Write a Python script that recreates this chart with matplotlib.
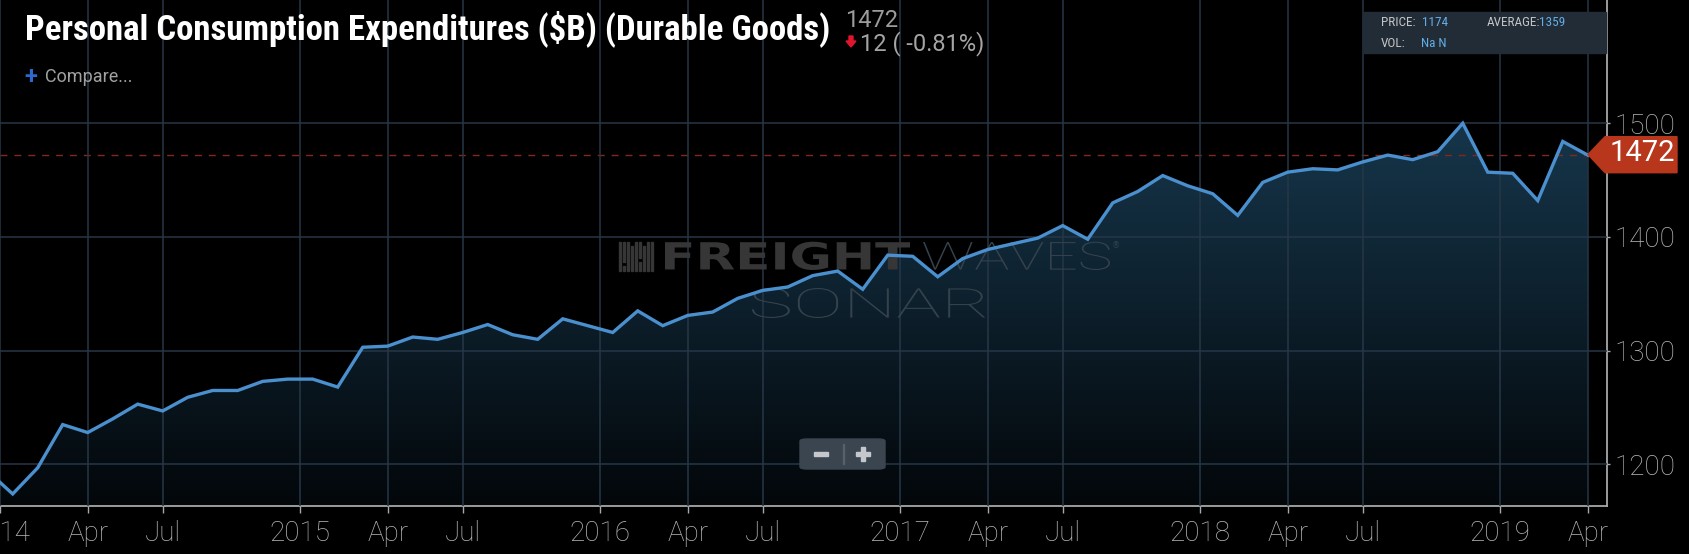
import numpy as np
import matplotlib
matplotlib.use("Agg")
import matplotlib.pyplot as plt
from matplotlib.patches import Polygon, Rectangle, FancyBboxPatch, PathPatch
from matplotlib.textpath import TextPath
from matplotlib.font_manager import FontProperties
from matplotlib.transforms import Affine2D

# === Data (monthly, Dec 2013 .. Apr 2019) ===
month_names = ["Jan", "Feb", "Mar", "Apr", "May", "Jun",
               "Jul", "Aug", "Sep", "Oct", "Nov", "Dec"]
months = ["Dec 2013"] + [f"{m} {y}" for y in range(2014, 2020) for m in month_names][:64]

values = [1194,
          1174, 1197, 1235, 1228, 1240, 1253, 1247, 1259, 1265, 1265, 1273, 1275,
          1275, 1268, 1303, 1304, 1312, 1310, 1316, 1323, 1314, 1310, 1328, 1322,
          1316, 1335, 1322, 1331, 1334, 1346, 1353, 1356, 1366, 1370, 1354, 1384,
          1383, 1365, 1381, 1389, 1394, 1399, 1410, 1398, 1430, 1440, 1454, 1445,
          1438, 1419, 1448, 1457, 1460, 1459, 1466, 1472, 1468, 1475, 1500, 1457,
          1456, 1432, 1484, 1472]

last_value = 1472
change = "12 ( -0.81%)"
price, average, vol = "1174", "1359", "Na N"
y_ticks = [1200, 1300, 1400, 1500]

# === Figure geometry (pixels) ===
W, H = 1689, 554
BG = "#000000"
LINE = "#4a90cf"
GRID = "#263747"
AXC = "#a8a8a8"
TXT = "#b8b8b8"
plain = ["Roboto", "DejaVu Sans"]
narrow = ["Roboto Condensed", "Liberation Sans Narrow", "DejaVu Sans"]


def fx(x):
    return x / W


def fy(y):
    return 1 - y / H


fig = plt.figure(figsize=(W / 100, H / 100), dpi=100, facecolor=BG)
ax = fig.add_axes([0, fy(506), fx(1607), 1 - fy(506)])
ax.set_facecolor(BG)

x = np.arange(len(values)) - 1       # Jan 2014 -> 0
y = np.array(values, dtype=float)

ax.set_xlim(-0.508, 63.77)
ax.set_ylim(1163.4, 1608.4)

# --- ticks: Apr / Jul at the month, years half a month before January ---
tick_pos, tick_lab = [], []
for i, m in zip(x, months):
    name, yr = m.split()
    if name in ("Apr", "Jul"):
        tick_pos.append(i)
        tick_lab.append(name)
    elif name == "Jan":
        tick_pos.append(i - 0.5)
        tick_lab.append(yr)
ax.set_xticks(tick_pos)
ax.set_xticklabels(tick_lab)
ax.set_yticks(y_ticks)
ax.yaxis.tick_right()

for lab in ax.get_xticklabels() + ax.get_yticklabels():
    lab.set_family(plain)
    lab.set_fontweight("light")
    lab.set_color(TXT)
    lab.set_fontsize(20)
ax.tick_params(axis="x", length=5, width=1, color=AXC, pad=5)
ax.tick_params(axis="y", length=2.5, width=1, color=AXC, pad=3)

for s in ("top", "left"):
    ax.spines[s].set_visible(False)
for s in ("bottom", "right"):
    ax.spines[s].set_color(AXC)
    ax.spines[s].set_linewidth(1.3)

ax.set_axisbelow(False)
ax.grid(True, color=GRID, linewidth=1.1)

# --- gradient area under the line ---
grad = np.linspace(1, 0, 256).reshape(-1, 1)
top_c = np.array([28, 69, 96]) / 255
bot_c = np.array([3, 7, 10]) / 255
img = grad[..., None] * top_c + (1 - grad[..., None]) * bot_c
im = ax.imshow(img, extent=[-0.508, 63.77, 1163.4, 1608.4], aspect="auto",
               origin="upper", zorder=1)
poly = Polygon(np.column_stack([np.r_[x, x[-1], x[0]],
                                np.r_[y, 1100, 1100]]),
               closed=True, facecolor="none", edgecolor="none",
               transform=ax.transData)
ax.add_patch(poly)
im.set_clip_path(poly)

# dashed last-value line
ax.plot([-0.508, x[-1]], [last_value, last_value], color="#82291a",
        linewidth=1, dashes=(5, 5), zorder=1.5)

ax.plot(x, y, color=LINE, linewidth=2.4, zorder=4, solid_joinstyle="miter")


# --- watermark ---
def text_patch(s, fp, x0, x1, ytop, ybot, color):
    tp = TextPath((0, 0), s, prop=fp, size=100)
    bb = tp.get_extents()
    tr = (Affine2D().translate(-bb.x0, -bb.y0)
          .scale((x1 - x0) / bb.width, (ybot - ytop) / bb.height)
          .translate(x0, H - ybot).scale(1 / W, 1 / H))
    p = PathPatch(tr.transform_path(tp), facecolor=color, edgecolor="none",
                  transform=fig.transFigure, zorder=3)
    ax.add_patch(p)


text_patch("FREIGHT", FontProperties(family="DejaVu Sans", weight="bold"),
           665, 910, 241.7, 270, "#363636")
text_patch("WAVES", FontProperties(family="Roboto", weight="light"),
           923, 1110, 241.7, 270, "#36434d")
text_patch("SONAR", FontProperties(family="Roboto", weight="light"),
           752, 985, 288, 318, "#34424c")
ax.text(fx(1116), fy(246), "®", transform=fig.transFigure, fontsize=6,
        color="#36434d", ha="center", va="center", zorder=3)
bars = [(619, 241.7, 270.7), (623, 241.7, 262), (623, 266, 270.7),
        (627, 241.7, 270.7), (631, 246, 270.7), (635, 241.7, 270.7),
        (639, 241.7, 258), (639, 262, 270.7), (643, 246, 270.7),
        (647, 241.7, 270.7), (651, 241.7, 270.7)]
for bx, t, b in bars:
    ax.add_patch(Rectangle((fx(bx), fy(b)), fx(2), (b - t) / H,
                           transform=fig.transFigure, color="#363636", zorder=3))

# --- header ---
fig.text(fx(25), fy(39.5), "Personal Consumption Expenditures ($B) (Durable Goods)",
         family=narrow, fontweight="bold", fontsize=25, color="white",
         ha="left", va="baseline")
fig.text(fx(845), fy(27.3), f"{last_value}", family=plain, fontsize=17,
         color="#9c9c9c", ha="left", va="baseline")
fig.text(fx(860), fy(50), change, family=plain, fontsize=17,
         color="#a4a4a4", ha="left", va="baseline")
fig.add_artist(Polygon([(fx(846), fy(41)), (fx(849), fy(41)), (fx(849), fy(36)),
                        (fx(853), fy(36)), (fx(853), fy(41)), (fx(856), fy(41)),
                        (fx(851), fy(47))], closed=True, color="#e3142d",
                       transform=fig.transFigure))
fig.text(fx(24), fy(77), "+", family=plain, fontsize=17, fontweight="bold",
         color="#2d67d0", ha="left", va="center")
fig.text(fx(45), fy(77), "Compare...", family=plain, fontsize=13,
         color="#a0a0a0", ha="left", va="center")

# --- info box ---
fig.add_artist(Rectangle((fx(1362.7), fy(53.3)), fx(1606 - 1362.7), (53.3 - 12.3) / H,
                         transform=fig.transFigure, color="#212c36"))
for tx, ty, s, c in [(1381, 23, "PRICE:", "#c4c4c4"), (1421.7, 23, price, "#63aee8"),
                     (1487, 23, "AVERAGE:", "#c4c4c4"), (1538.5, 23, average, "#63aee8"),
                     (1381, 43.5, "VOL:", "#c4c4c4"), (1421, 43.5, vol, "#63aee8")]:
    fig.text(fx(tx), fy(ty), s, family=narrow, fontsize=9.5, color=c,
             ha="left", va="center")

# --- last value tag ---
fig.add_artist(Polygon([(fx(1588), fy(154.5)), (fx(1605), fy(136.7)),
                        (fx(1677), fy(136.7)), (fx(1677), fy(172.7)),
                        (fx(1605), fy(172.7))], closed=True, color="#b8361b",
                       transform=fig.transFigure))
fig.text(fx(1642), fy(153), f"{last_value}", family=plain, fontsize=21,
         color="white", ha="center", va="center")

# --- zoom buttons ---
fig.add_artist(FancyBboxPatch((fx(800), fy(469)), fx(85), 30 / H,
                              boxstyle="round,pad=0,rounding_size=0.004",
                              transform=fig.transFigure, color="#3a4550"))
fig.add_artist(Rectangle((fx(842.5), fy(464)), fx(1), 20 / H,
                         transform=fig.transFigure, color="#55606a"))
fig.add_artist(Rectangle((fx(814), fy(455.5)), fx(14), 4 / H,
                         transform=fig.transFigure, color="#c4c8cc"))
fig.add_artist(Rectangle((fx(856), fy(455.5)), fx(14), 4 / H,
                         transform=fig.transFigure, color="#c4c8cc"))
fig.add_artist(Rectangle((fx(861), fy(460.5)), fx(4), 14 / H,
                         transform=fig.transFigure, color="#c4c8cc"))

fig.savefig("out.png", dpi=100, facecolor=BG)
